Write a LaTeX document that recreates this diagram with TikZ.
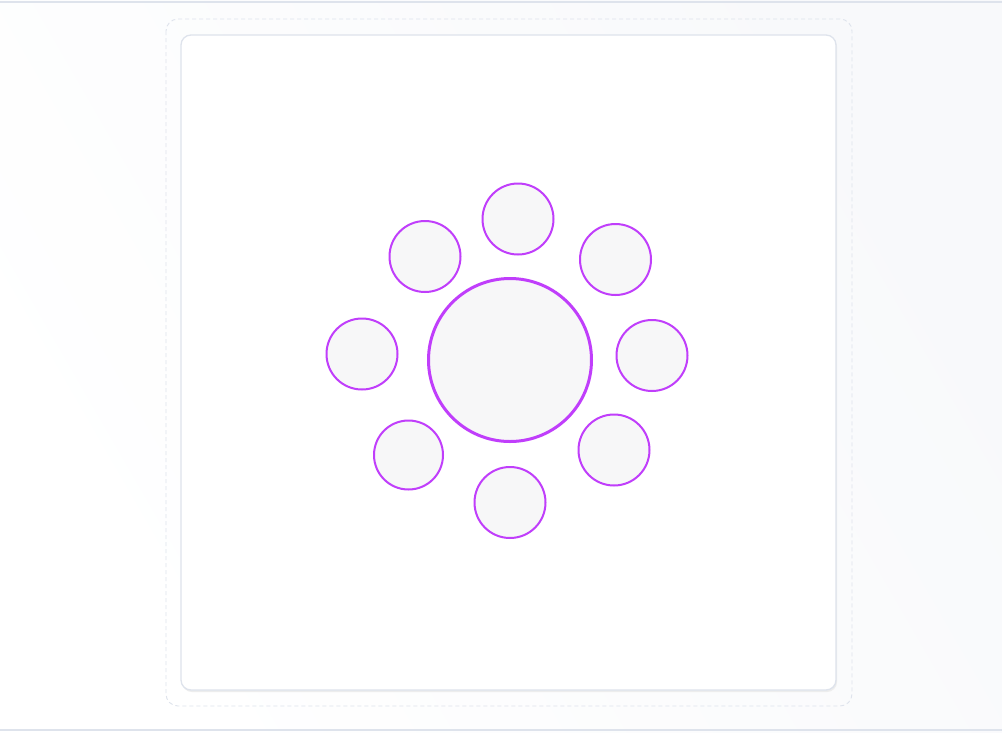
\documentclass[tikz,border=0pt]{standalone}
\usepackage{tikz}
\usetikzlibrary{calc}

\definecolor{ringpurple}{RGB}{192,62,251}
\definecolor{seatfill}{RGB}{247,247,248}
\definecolor{edgegrey}{RGB}{222,227,236}
\definecolor{pagebg}{RGB}{248,249,251}

\begin{document}
\begin{tikzpicture}[x=1pt,y=-1pt]
		\tikzset{seat/.style={draw=ringpurple,circle,inner sep=0pt,fill=seatfill,line width=2pt,minimum size=71pt}}
		\tikzset{table/.style={draw=ringpurple,circle,inner sep=0pt,fill=seatfill,line width=3pt,minimum size=163pt}}
		% page and frames
		\useasboundingbox (0,0) rectangle (1002,732);
		\shade[left color=white, right color=pagebg, shading angle=120] (0,0) rectangle (1002,732);
		\draw[edgegrey, line width=1.2pt] (0,2) -- (1002,2);
		\draw[edgegrey, line width=1.2pt] (0,730) -- (1002,730);
		\draw[edgegrey, line width=0.9pt, dash pattern=on 4pt off 3pt, rounded corners=12pt] (166,19) rectangle (852,706);
		\fill[black!7, rounded corners=10pt] (182,37) rectangle (837,692);
		\draw[edgegrey, fill=white, line width=1.3pt, rounded corners=10pt] (181,35) rectangle (836,690);

		\node (t) at (510,360) [table] {};
		\node (1) at (518,219) [seat] {};
		\node (2) at (615.5,259.5) [seat] {};
		\node (3) at (652,355.5) [seat] {};
		\node (4) at (614,450) [seat] {};
		\node (5) at (510,502.5) [seat] {};
		\node (6) at (408.5,455) [seat,minimum size=69pt] {};
		\node (7) at (362,354) [seat] {};
		\node (8) at (425,256.5) [seat] {};
	\end{tikzpicture}
\end{document}
